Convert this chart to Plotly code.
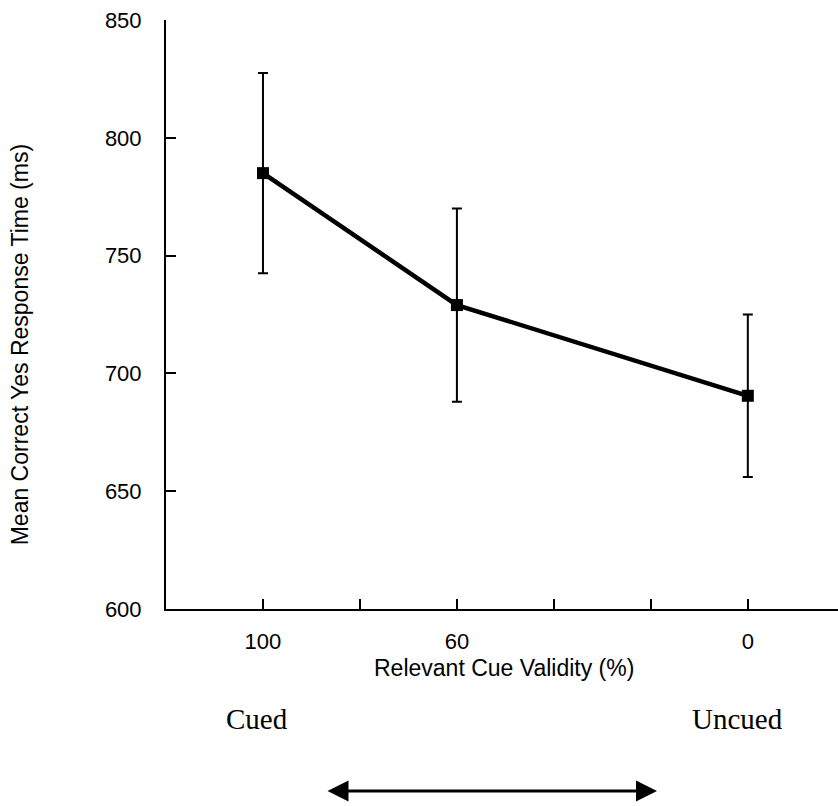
import plotly.graph_objects as go

validity = [100, 60, 0]
mean_rt = [785, 729, 690.5]
err_rt = [42.5, 41, 34.5]

x_tickvals = [100, 80, 60, 40, 20, 0]
x_ticktext = ["100", "", "60", "", "", "0"]
y_tickvals = [600, 650, 700, 750, 800, 850]

fig = go.Figure()
fig.add_trace(go.Scatter(
    x=validity, y=mean_rt,
    mode="lines+markers",
    line=dict(color="black", width=4.5),
    marker=dict(symbol="square", size=12, color="black"),
    error_y=dict(type="data", array=err_rt, visible=True,
                 color="black", thickness=2, width=5),
    showlegend=False,
))

axis_font = dict(family="Liberation Sans, Arial, sans-serif", size=22, color="black")

fig.update_layout(
    width=838, height=806,
    margin=dict(l=166, r=0, t=20, b=197),
    paper_bgcolor="white", plot_bgcolor="white",
    xaxis=dict(
        range=[120, -18.6], tickmode="array", tickvals=x_tickvals, ticktext=x_ticktext,
        ticks="inside", ticklen=10, tickwidth=2, tickcolor="black",
        showline=True, linecolor="black", linewidth=2,
        showgrid=False, zeroline=False, tickfont=axis_font,
        ticklabelstandoff=12,
    ),
    yaxis=dict(
        range=[600, 850], tickmode="array", tickvals=y_tickvals,
        ticks="inside", ticklen=10, tickwidth=2, tickcolor="black",
        showline=True, linecolor="black", linewidth=2,
        showgrid=False, zeroline=False, tickfont=axis_font,
        ticklabelstandoff=18,
    ),
)

title_font = dict(family="Liberation Sans, Arial, sans-serif", size=23, color="black")
serif_font = dict(family="Liberation Serif, Times New Roman, serif", size=29, color="black")

fig.add_annotation(text="Mean Correct Yes Response Time (ms)", xref="paper", yref="paper",
                   x=-0.217, y=0.448, textangle=-90, showarrow=False, font=title_font,
                   xanchor="center", yanchor="middle")
fig.add_annotation(text="Relevant Cue Validity (%)", xref="paper", yref="paper",
                   x=0.503, y=-0.100, showarrow=False, font=title_font,
                   xanchor="center", yanchor="middle")
fig.add_annotation(text="Cued", xref="paper", yref="paper",
                   x=0.135, y=-0.187, showarrow=False, font=serif_font,
                   xanchor="center", yanchor="middle")
fig.add_annotation(text="Uncued", xref="paper", yref="paper",
                   x=0.851, y=-0.187, showarrow=False, font=serif_font,
                   xanchor="center", yanchor="middle")
fig.add_annotation(text="", xref="paper", yref="paper",
                   x=0.7307, y=-0.309, ax=-331, ay=0,
                   showarrow=True, arrowhead=2, startarrowhead=2, arrowside="end+start",
                   arrowwidth=3, arrowsize=1.4, startarrowsize=1.4, arrowcolor="black")

fig.write_html("out.html")
